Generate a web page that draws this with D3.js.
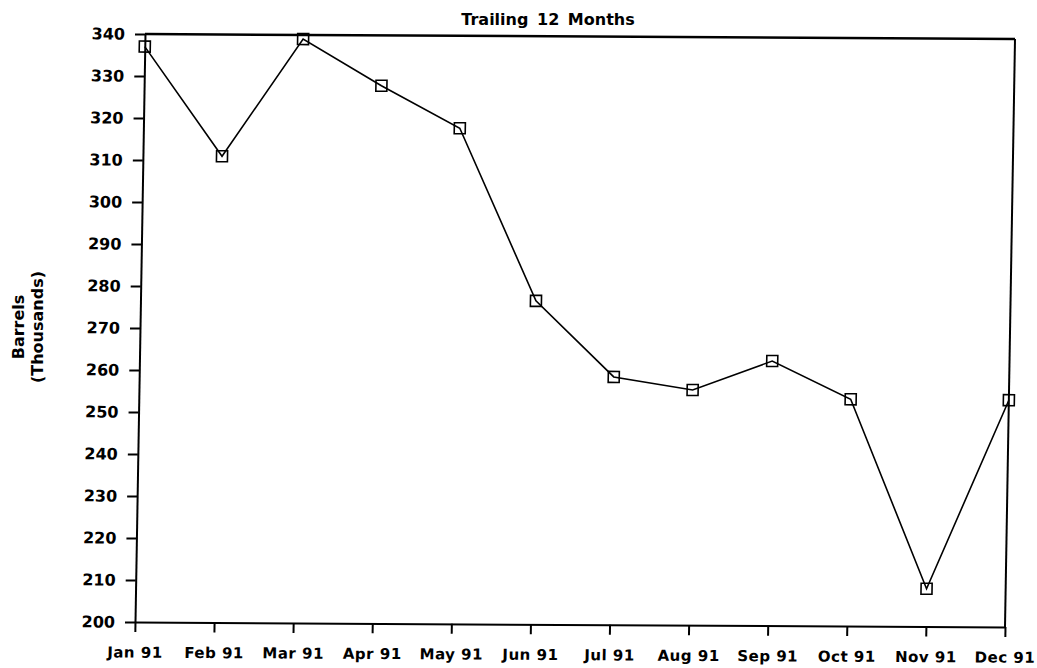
<!DOCTYPE html>
<html>
<head>
<meta charset="utf-8">
<script src="https://cdn.jsdelivr.net/npm/d3@7"></script>
<style>
  body { margin:0; background:#fff; }
  text { font-family:"DejaVu Sans", sans-serif; font-weight:bold; fill:#000; }
  .axis path, .axis line { stroke:#000; stroke-width:2; }
  .axis text { font-size:16px; }
</style>
</head>
<body>
<svg id="viewer"></svg>
<script>
var months = ['Jan 91','Feb 91','Mar 91','Apr 91','May 91','Jun 91',
              'Jul 91','Aug 91','Sep 91','Oct 91','Nov 91','Dec 91'];
var barrels = [337, 311, 339, 328, 318, 277, 259, 256, 263, 254, 209, 254];
var yTicks = [200,210,220,230,240,250,260,270,280,290,300,310,320,330,340];
var title = 'Trailing 12 Months';
var yTitle = ['Barrels', '(Thousands)'];

var width = 1037, height = 668;
var W = 870, H = 588;

var viewer = d3.select('#viewer')
  .attr('width', width)
  .attr('height', height);

// the scan is slightly skewed, so the plot gets a small shear
var plot = viewer.append('g')
  .attr('transform', 'matrix(1,' + (5/870) + ',' + (-10/588) + ',1,145,34)');

var x = d3.scalePoint().domain(months).range([0, W]).padding(0);
var y = d3.scaleLinear().domain([200, 340]).range([H, 0]);

plot.append('g')
  .attr('class', 'axis')
  .call(d3.axisLeft(y).tickValues(yTicks).tickSize(10).tickSizeOuter(0).tickPadding(10));

plot.append('g')
  .attr('class', 'axis')
  .attr('transform', 'translate(0,' + H + ')')
  .call(d3.axisBottom(x).tickSize(10).tickSizeOuter(0).tickPadding(15))
  .selectAll('text')
    .style('font-size', '15px')
    .style('letter-spacing', '0.5px');

// frame top and right
plot.append('line')
  .attr('x1', 0).attr('x2', W)
  .attr('y1', y(340)).attr('y2', y(340))
  .attr('stroke', '#000').attr('stroke-width', 2.5);
plot.append('line')
  .attr('x1', W).attr('x2', W)
  .attr('y1', 0).attr('y2', H)
  .attr('stroke', '#000').attr('stroke-width', 2);

var line = d3.line()
  .x(function(d, i){ return x(months[i]); })
  .y(function(d){ return y(d); });

plot.append('path')
  .datum(barrels)
  .attr('d', line)
  .attr('fill', 'none')
  .attr('stroke', '#000')
  .attr('stroke-width', 1.6);

plot.selectAll('.marker')
  .data(barrels)
  .enter().append('rect')
    .attr('class', 'marker')
    .attr('x', function(d, i){ return x(months[i]) - 5.5; })
    .attr('y', function(d){ return y(d) - 5.5; })
    .attr('width', 11)
    .attr('height', 11)
    .attr('fill', 'none')
    .attr('stroke', '#000')
    .attr('stroke-width', 1.6);

viewer.append('text')
  .attr('x', 548)
  .attr('y', 25)
  .attr('text-anchor', 'middle')
  .style('font-size', '16px')
  .style('word-spacing', '3px')
  .text(title);

viewer.selectAll('.ytitle')
  .data(yTitle)
  .enter().append('text')
    .attr('class', 'ytitle')
    .attr('transform', function(d, i){ return 'translate(' + (24 + i*19) + ',327) rotate(-90)'; })
    .attr('text-anchor', 'middle')
    .style('font-size', '16px')
    .text(function(d){ return d; });
</script>
</body>
</html>
